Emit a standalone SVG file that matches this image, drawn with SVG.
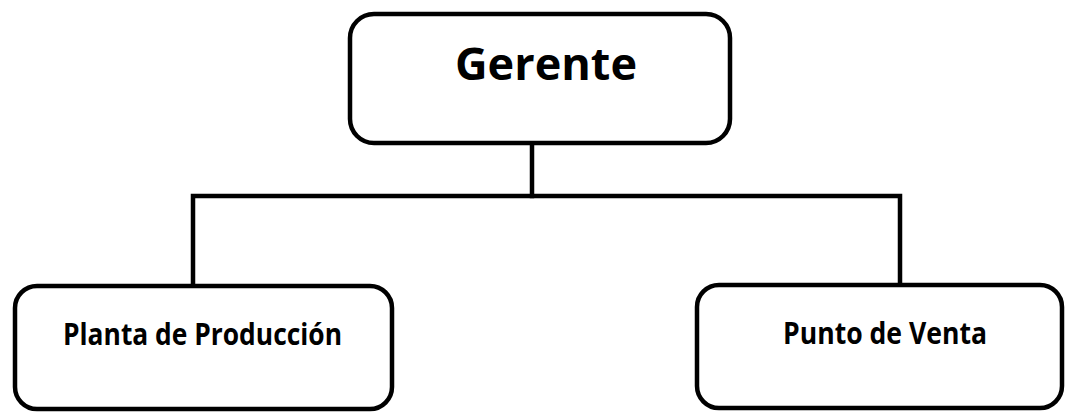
<svg xmlns="http://www.w3.org/2000/svg" width="1067" height="412" viewBox="0 0 1067 412">
<style>
.box{fill:#fff;stroke:#000;stroke-width:4.5}
.line{fill:none;stroke:#000;stroke-width:4.5;stroke-linejoin:miter;stroke-linecap:square}
.t{font-family:"Open Sans","Noto Sans","DejaVu Sans",sans-serif;font-weight:bold;fill:#000}
</style>
<rect width="1067" height="412" fill="#fff"/>
<g id="connectors">
<path class="line" d="M532 143 V196"/>
<path class="line" d="M193 286 V196 H900 V285"/>
</g>
<g id="gerente">
<rect class="box" x="350" y="14" width="380" height="129" rx="24"/>
<text class="t" x="455" y="80" font-size="44" textLength="182" lengthAdjust="spacingAndGlyphs">Gerente</text>
</g>
<g id="planta">
<rect class="box" x="15" y="286" width="377" height="123" rx="22"/>
<text class="t" x="63" y="345" font-size="30" textLength="279" lengthAdjust="spacingAndGlyphs">Planta de Producción</text>
</g>
<g id="punto">
<rect class="box" x="697" y="285" width="365" height="123" rx="22"/>
<text class="t" x="783" y="344" font-size="30" textLength="204" lengthAdjust="spacingAndGlyphs">Punto de Venta</text>
</g>
</svg>
